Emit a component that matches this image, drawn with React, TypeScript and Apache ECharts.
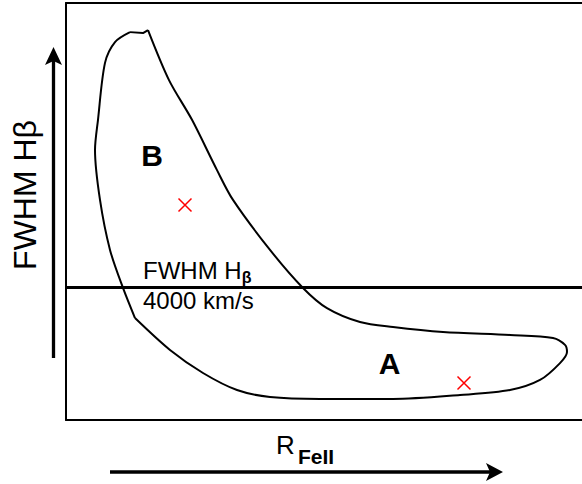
import React, { useEffect, useRef } from "react";
import * as echarts from "echarts";

// Envelope of the distribution (R_FeII, FWHM Hβ in km/s)
const leftEdgeX = [0.345, 0.285, 0.22, 0.17, 0.145, 0.16, 0.195, 0.245, 0.32];
const leftEdgeY = [3080, 3990, 5140, 6650, 8160, 9070, 10790, 11420, 11720];

const topCapX = [0.32, 0.385, 0.41];
const topCapY = [11720, 11690, 11780];

const outerEdgeX = [
  0.41, 0.515, 0.63, 0.755, 0.835, 1.02, 1.185, 1.305, 1.47, 1.635,
  1.885, 2.22, 2.435, 2.495, 2.505, 2.47, 2.37, 2.22, 1.97, 1.635, 1.27, 1.02,
  0.855, 0.685, 0.52, 0.345,
];
const outerEdgeY = [
  11780, 10270, 9070, 7550, 6650, 5140, 3990, 3380, 2960, 2810,
  2660, 2570, 2480, 2270, 2055, 1720, 1210, 905, 755, 635, 635, 695,
  905, 1420, 2115, 3080,
];

const thresholdKms = 4000;
const xRange = [0, 2.58];
const yRange = [0, 12600];

const populationLabels = ["B", "A"];
const populationX = [0.43, 1.6175];
const populationY = [7977, 1707];

const centroidX = [0.595, 1.99];
const centroidY = [6496, 1118];

const FONT = "'Liberation Sans', Arial, Helvetica, sans-serif";

function zip(xs: number[], ys: number[]) {
  return xs.map((x, i) => [x, ys[i]]);
}

export default function App() {
  const ref = useRef<HTMLDivElement>(null);

  useEffect(() => {
    if (!ref.current) return;
    const chart = echarts.init(ref.current, undefined, { renderer: "svg" });
    const lineStyle = { color: "#000", width: 2 };
    const frame = { show: true, onZero: false, lineStyle: { color: "#000", width: 2 } };
    const hidden = {
      axisTick: { show: false },
      axisLabel: { show: false },
      splitLine: { show: false },
    };
    chart.setOption({
      animation: false,
      backgroundColor: "#fff",
      grid: { left: 66, top: 3, right: 0, bottom: 64 },
      xAxis: [
        { type: "value", min: xRange[0], max: xRange[1], position: "bottom", axisLine: frame, ...hidden },
        { type: "value", min: xRange[0], max: xRange[1], position: "top", axisLine: frame, ...hidden },
      ],
      yAxis: {
        type: "value",
        min: yRange[0],
        max: yRange[1],
        axisLine: frame,
        ...hidden,
      },
      series: [
        {
          type: "line",
          data: zip(leftEdgeX, leftEdgeY),
          showSymbol: false,
          smooth: 0.3,
          lineStyle,
          silent: true,
        },
        {
          type: "line",
          data: zip(topCapX, topCapY),
          showSymbol: false,
          lineStyle,
          silent: true,
        },
        {
          type: "line",
          data: zip(outerEdgeX, outerEdgeY),
          showSymbol: false,
          smooth: 0.3,
          lineStyle,
          silent: true,
        },
        {
          type: "line",
          data: [
            [xRange[0], thresholdKms],
            [xRange[1], thresholdKms],
          ],
          showSymbol: false,
          lineStyle: { color: "#000", width: 3 },
          silent: true,
        },
        {
          type: "scatter",
          data: [[0.385, 4079]],
          symbolSize: 0,
          silent: true,
          itemStyle: { opacity: 1 },
          label: {
            show: true,
            position: "right",
            distance: 0,
            formatter: "{n|FWHM H}{s|β}\n{n|" + thresholdKms + " km/s}",
            rich: {
              n: { fontFamily: FONT, fontSize: 24, lineHeight: 30, color: "#000" },
              s: {
                fontFamily: FONT,
                fontSize: 16,
                fontWeight: "bold",
                lineHeight: 14,
                verticalAlign: "bottom",
                color: "#000",
              },
            },
          },
        },
        {
          type: "scatter",
          data: populationLabels.map((name, i) => ({
            name,
            value: [populationX[i], populationY[i]],
          })),
          symbolSize: 0,
          silent: true,
          itemStyle: { opacity: 1 },
          label: {
            show: true,
            position: "inside",
            formatter: "{b}",
            fontFamily: FONT,
            fontSize: 30,
            fontWeight: "bold",
            color: "#000",
          },
        },
        {
          type: "scatter",
          data: zip(centroidX, centroidY),
          symbol: "path://M0 0L10 10M10 0L0 10",
          symbolSize: 13,
          silent: true,
          itemStyle: {
            color: "none",
            borderColor: "#ff0000",
            borderWidth: 1.5,
            opacity: 1,
          },
        },
      ],
      graphic: [
        {
          type: "text",
          x: 24.5,
          y: 195,
          rotation: Math.PI / 2,
          style: {
            text: "FWHM Hβ",
            fontFamily: FONT,
            fontSize: 32,
            fill: "#000",
            align: "center",
            verticalAlign: "middle",
          },
        },
        {
          type: "line",
          shape: { x1: 53.5, y1: 358, x2: 53.5, y2: 58 },
          style: { stroke: "#000", lineWidth: 3.3 },
        },
        {
          type: "polygon",
          shape: {
            points: [
              [53.5, 47],
              [62, 65],
              [53.5, 61],
              [45, 65],
            ],
          },
          style: { fill: "#000" },
        },
        {
          type: "line",
          shape: { x1: 110, y1: 472, x2: 492, y2: 472 },
          style: { stroke: "#000", lineWidth: 3.3 },
        },
        {
          type: "polygon",
          shape: {
            points: [
              [503, 472],
              [486, 463],
              [490, 472],
              [486, 481],
            ],
          },
          style: { fill: "#000" },
        },
        {
          type: "text",
          x: 276,
          y: 444.5,
          style: {
            text: "R",
            fontFamily: FONT,
            fontSize: 26,
            fill: "#000",
            align: "left",
            verticalAlign: "middle",
          },
        },
        {
          type: "text",
          x: 298,
          y: 456,
          style: {
            text: "FeII",
            fontFamily: FONT,
            fontSize: 21,
            fontWeight: "bold",
            fill: "#000",
            align: "left",
            verticalAlign: "middle",
          },
        },
      ],
    });
    return () => chart.dispose();
  }, []);

  return (
    <div
      ref={ref}
      style={{ position: "fixed", left: 0, top: 0, width: 582, height: 484 }}
    />
  );
}
